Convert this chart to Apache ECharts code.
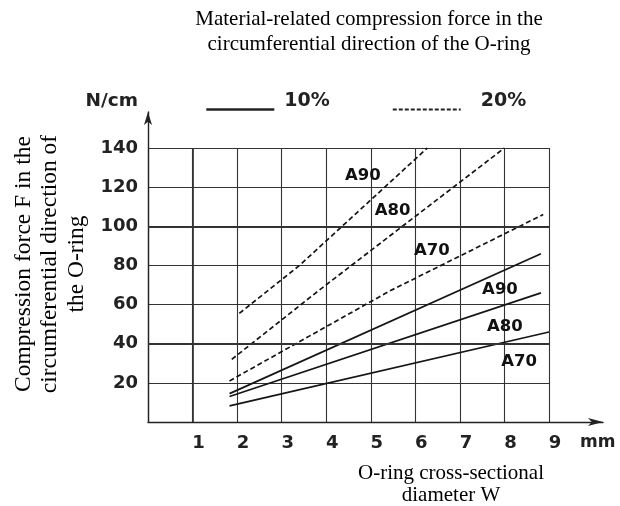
<!DOCTYPE html>
<html>
<head>
<meta charset="utf-8">
<title>O-ring compression force</title>
<script src="https://cdn.jsdelivr.net/npm/echarts@6.0.0/dist/echarts.min.js"></script>
<style>
  html, body { margin: 0; padding: 0; background: #ffffff; }
  #chart { width: 620px; height: 506px; }
</style>
</head>
<body>
<div id="chart"></div>
<script>
// Cross-sectional diameter W (mm) vs. compression force F (N/cm)
// 10 % compression (solid curves)
const solidA90 = [[1.83, 14.5], [8.82, 86]];
const solidA80 = [[1.83, 13], [8.82, 66]];
const solidA70 = [[1.83, 8.2], [9.0, 46]];
// 20 % compression (dashed curves)
const dashA90 = [[2.05, 55.5], [3.4, 80], [6.27, 140]];
const dashA80 = [[1.88, 32], [3.85, 67.5], [8.0, 140]];
const dashA70 = [[1.83, 21], [5.43, 67], [8.87, 106]];

// Axis tick labels
const xTicks = [1, 2, 3, 4, 5, 6, 7, 8, 9];
const yTicks = [20, 40, 60, 80, 100, 120, 140];

// Hardness tags and where they sit (W, F)
const tagNames = ['A90', 'A80', 'A70', 'A90', 'A80', 'A70'];
const tagAnchors = [[4.82, 126], [5.49, 108], [6.37, 87.5], [7.9, 67.5], [8.01, 48.5], [8.33, 31]];

const INK = '#151515';
const GRID = '#333333';
const SANS = 'DejaVu Sans';
const SERIF = 'Liberation Serif';

const solidStyle = { color: INK, width: 1.7, type: 'solid', cap: 'butt' };
const dashStyle = { color: INK, width: 1.7, type: [5, 3], cap: 'butt' };

function curve(name, data, style) {
  return {
    name: name,
    type: 'line',
    xAxisIndex: 0,
    yAxisIndex: 0,
    data: data,
    symbol: 'none',
    silent: true,
    itemStyle: { color: INK },
    lineStyle: style,
    z: 3
  };
}

const series = [
  curve('10%', solidA90, solidStyle),
  curve('10%', solidA80, solidStyle),
  curve('10%', solidA70, solidStyle),
  curve('20%', dashA90, dashStyle),
  curve('20%', dashA80, dashStyle),
  curve('20%', dashA70, dashStyle)
];

// heavier reference lines of the grid
series[0].markLine = {
  silent: true,
  symbol: ['none', 'none'],
  label: { show: false },
  lineStyle: { color: GRID, width: 2.2, type: 'solid' },
  data: [{ yAxis: 100 }, { yAxis: 40 }, { xAxis: 1, lineStyle: { width: 1.7 } }]
};

series.push({
  type: 'scatter',
  xAxisIndex: 0,
  yAxisIndex: 0,
  symbolSize: 1,
  silent: true,
  itemStyle: { color: 'rgba(0,0,0,0)' },
  data: tagAnchors.map((p, i) => [p[0], p[1], tagNames[i]]),
  label: {
    show: true,
    position: [0.5, 0.5],
    align: 'center',
    verticalAlign: 'middle',
    formatter: p => p.value[2],
    fontFamily: SANS,
    fontWeight: 'bold',
    fontSize: 16.5,
    color: '#111111',
    opacity: 1
  },
  z: 4
});

const legendFont = { fontFamily: SANS, fontWeight: 'bold', fontSize: 19, color: '#222' };

const chart = echarts.init(document.getElementById('chart'), null, { renderer: 'canvas' });

chart.setOption({
  animation: false,
  backgroundColor: '#ffffff',
  title: [
    {
      text: 'Material-related compression force in the\ncircumferential direction of the O-ring',
      left: 369,
      top: 7,
      padding: 0,
      textAlign: 'center',
      textStyle: { fontFamily: SERIF, fontSize: 21, fontWeight: 'normal', lineHeight: 25, color: '#000' }
    },
    {
      text: 'O-ring cross-sectional\ndiameter W',
      left: 451,
      top: 462,
      padding: 0,
      textAlign: 'center',
      textStyle: { fontFamily: SERIF, fontSize: 21, fontWeight: 'normal', lineHeight: 22, color: '#000' }
    }
  ],
  legend: {
    left: 205,
    top: 92,
    padding: 0,
    itemWidth: 68,
    itemHeight: 14,
    itemGap: 62,
    selectedMode: false,
    itemStyle: { opacity: 0, color: 'transparent', borderWidth: 0 },
    formatter: name => (name === '10%' ? '{a|' + name + '}' : '{b|' + name + '}'),
    textStyle: Object.assign({}, legendFont, {
      rich: {
        a: Object.assign({}, legendFont, { padding: [0, 0, 16, 5] }),
        b: Object.assign({}, legendFont, { padding: [0, 0, 16, 15] })
      }
    }),
    data: [
      { name: '10%', lineStyle: { width: 2.6, type: 'solid', color: '#222' } },
      { name: '20%', lineStyle: { width: 2, type: [4, 2], color: '#222' } }
    ]
  },
  grid: [
    { left: 148, top: 148, width: 401, height: 274, containLabel: false },
    { left: 148, top: 112, width: 455, height: 310, containLabel: false }
  ],
  xAxis: [
    {
      gridIndex: 0,
      type: 'value',
      min: 0,
      max: 9,
      interval: 1,
      name: 'mm',
      nameLocation: 'end',
      nameGap: 31,
      nameTextStyle: {
        fontFamily: SANS, fontWeight: 'bold', fontSize: 17, color: '#222',
        align: 'left', verticalAlign: 'top', padding: [12, 0, 0, 0]
      },
      axisLine: { show: false },
      axisTick: { show: false },
      axisLabel: {
        margin: 12,
        padding: [0, 0, 0, 12],
        fontFamily: SANS, fontWeight: 'bold', fontSize: 18, color: '#222',
        formatter: v => (xTicks.includes(v) ? String(v) : '')
      },
      splitLine: { show: true, lineStyle: { color: GRID, width: 1.1 } }
    },
    {
      gridIndex: 1,
      type: 'value',
      min: 0,
      max: 1,
      axisLine: {
        show: true,
        symbol: ['none', 'arrow'],
        symbolSize: [6, 15],
        lineStyle: { color: '#222', width: 1.4 }
      },
      axisTick: { show: false },
      axisLabel: { show: false },
      splitLine: { show: false }
    }
  ],
  yAxis: [
    {
      gridIndex: 0,
      type: 'value',
      min: 0,
      max: 140,
      interval: 20,
      name: 'N/cm',
      nameLocation: 'end',
      nameGap: 47,
      nameTextStyle: {
        fontFamily: SANS, fontWeight: 'bold', fontSize: 18.5, color: '#222',
        align: 'right', verticalAlign: 'middle', padding: [0, 10, 0, 0]
      },
      axisLine: { show: false },
      axisTick: { show: false },
      axisLabel: {
        margin: 10,
        padding: [0, 0, 12, 0],
        fontFamily: SANS, fontWeight: 'bold', fontSize: 18, color: '#222',
        formatter: v => (yTicks.includes(v) ? String(v) : '')
      },
      splitLine: { show: true, lineStyle: { color: GRID, width: 1.1 } }
    },
    {
      gridIndex: 1,
      type: 'value',
      min: 0,
      max: 1,
      name: 'Compression force F in the\ncircumferential direction of\nthe O-ring',
      nameLocation: 'middle',
      nameRotate: 90,
      nameGap: 58,
      nameTextStyle: { fontFamily: SERIF, fontSize: 23.5, lineHeight: 26.5, color: '#000', padding: [0, 0, 0, 6] },
      axisLine: {
        show: true,
        symbol: ['none', 'arrow'],
        symbolSize: [6, 13],
        lineStyle: { color: '#222', width: 1.4 }
      },
      axisTick: { show: false },
      axisLabel: { show: false },
      splitLine: { show: false }
    }
  ],
  series: series
});
</script>
</body>
</html>
